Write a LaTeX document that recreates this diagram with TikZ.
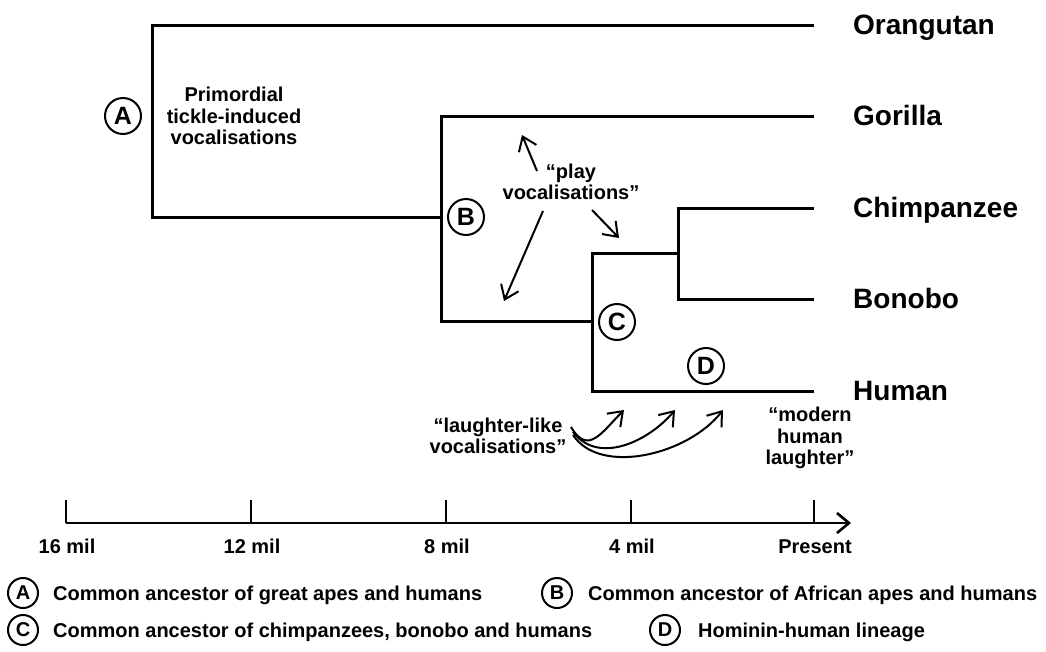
\documentclass[tikz,border=0pt]{standalone}
\usepackage{fontspec}
\setmainfont{Liberation Sans}
\usetikzlibrary{arrows.meta}
\begin{document}
\begin{tikzpicture}[x=1pt,y=-1pt,
  tree/.style={line width=3pt, line join=miter},
  axisline/.style={line width=2.6pt},
  species/.style={anchor=base west, inner sep=0pt, font=\bfseries\fontsize{28}{30}\selectfont},
  note/.style={align=center, inner sep=0pt, font=\bfseries\fontsize{20}{21.5}\selectfont},
  badge/.style={circle, draw, line width=2pt, inner sep=0pt, minimum width=36pt, minimum height=36pt, font=\bfseries\fontsize{25}{25}\selectfont},
  smallbadge/.style={circle, draw, line width=2pt, inner sep=0pt, minimum width=30pt, minimum height=30pt, font=\bfseries\fontsize{20}{20}\selectfont},
  legend/.style={anchor=base west, inner sep=0pt, font=\bfseries\fontsize{20}{22}\selectfont},
  ticklab/.style={anchor=base, inner sep=0pt, font=\bfseries\fontsize{20}{22}\selectfont},
  pointer/.style={line width=2pt, -{Straight Barb[length=13pt,width=19pt]}},
]
\useasboundingbox (0,0) rectangle (1046,651);
\fill[white] (0,0) rectangle (1046,651);

% branch tips
\coordinate (o) at (814,25);
\coordinate (g) at (814,116);
\coordinate (c) at (814,208);
\coordinate (b) at (814,299);
\coordinate (h) at (814,391);
% junctions
\coordinate (Abot) at (152,217);
\coordinate (Bmid) at (441,217);
\coordinate (Bbot) at (441,321);
\coordinate (Cmid) at (592,321);
\coordinate (Ctop) at (592,253);
\coordinate (CBmid) at (678,253);
\coordinate (CBbot) at (678,299);

\draw[tree] (o) -| (Abot) -- (Bmid);
\draw[tree] (g) -| (Bbot) -- (Cmid);
\draw[tree] (h) -| (Ctop) -- (CBmid);
\draw[tree] (c) -| (CBbot) -- (b);

% species labels
\node[species] (orang) at (853,34) {Orangutan};
\node[species] (gor) at (853,125) {Gorilla};
\node[species] (chimp) at (853,217) {Chimpanzee};
\node[species] (bon) at (853,308) {Bonobo};
\node[species] (hum) at (853,400) {Human};

% node badges
\node[badge] (nA) at (123,116) {A};
\node[badge] (nB) at (466,217) {B};
\node[badge] (nC) at (617,322) {C};
\node[badge] (nD) at (706,366) {D};

% notes
\node[note] (prim) at (234,116) {Primordial\\tickle-induced\\vocalisations};
\node[note] (play) at (571,182) {“play\\vocalisations”};
\node[note] (laugh) at (498,436) {“laughter-like\\vocalisations”};
\node[note] (modern) at (810,438) {“modern\\human\\laughter”};

% play arrows
\coordinate (p1s) at (537,171); \coordinate (p1e) at (522,135);
\coordinate (p2s) at (543,211); \coordinate (p2e) at (504,301);
\coordinate (p3s) at (592,210); \coordinate (p3e) at (619,238);
\draw[pointer] (p1s) -- (p1e);
\draw[pointer] (p2s) -- (p2e);
\draw[pointer] (p3s) -- (p3e);

% laughter arrows
\coordinate (l1s) at (571,427); \coordinate (l1e) at (624,410);
\coordinate (l2s) at (573,432); \coordinate (l2e) at (675,410);
\coordinate (l3s) at (573,435); \coordinate (l3e) at (723,410);
\draw[pointer] (l1s) .. controls (588,456) and (602,432) .. (l1e);
\draw[pointer] (l2s) .. controls (598,465) and (648,442) .. (l2e);
\draw[pointer] (l3s) .. controls (600,476) and (688,455) .. (l3e);

% time axis
\coordinate (ax0) at (66,523);
\coordinate (axE) at (851,523);
\draw[axisline, -{Straight Barb[length=12pt,width=20pt]}] (ax0) -- (axE);
\foreach \x/\lab/\nm in {66/16 mil/t16, 251/12 mil/t12, 446/8 mil/t8, 631/4 mil/t4, 814/Present/t0}{
  \coordinate (\nm top) at (\x,500);
  \coordinate (\nm bot) at (\x,523);
  \draw[axisline] (\nm top) -- (\nm bot);
  \node[ticklab] (\nm lab) at (\x+1,553) {\lab};
}

% legend
\node[smallbadge] (lA) at (23,593) {A};
\node[legend] (tA) at (53,600) {Common ancestor of great apes and humans};
\node[smallbadge] (lB) at (557,593) {B};
\node[legend] (tB) at (588,600) {Common ancestor of African apes and humans};
\node[smallbadge] (lC) at (23,630) {C};
\node[legend] (tC) at (53,637) {Common ancestor of chimpanzees, bonobo and humans};
\node[smallbadge] (lD) at (665,630) {D};
\node[legend] (tD) at (698,637) {Hominin-human lineage};
\end{tikzpicture}
\end{document}
